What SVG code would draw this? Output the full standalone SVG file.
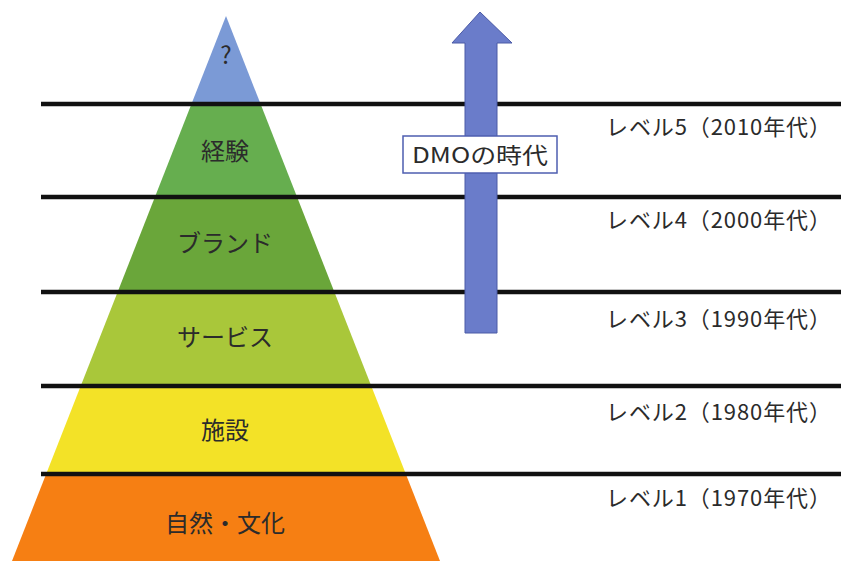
<svg xmlns="http://www.w3.org/2000/svg" width="841" height="561" viewBox="0 0 841 561">
<style>
.lbl{font-family:"Noto Sans CJK JP","Noto Sans",sans-serif;fill:#2b2b2b;text-anchor:middle;font-size:24px}
.lvl{font-family:"Noto Sans CJK JP","Noto Sans",sans-serif;fill:#2b2b2b;font-size:22px}
.sep{stroke:#111;stroke-width:4.5}
</style>
<rect width="841" height="561" fill="#fff"/>
<defs>
<clipPath id="pyr"><polygon points="226,16 12,561 440,561"/></clipPath>
</defs>
<g id="pyramid" clip-path="url(#pyr)">
<rect id="band-top" x="0" y="0" width="460" height="104" fill="#7b9ad6"/>
<rect id="band-keiken" x="0" y="104" width="460" height="93" fill="#66ae4f"/>
<rect id="band-brand" x="0" y="197" width="460" height="95" fill="#6aa63a"/>
<rect id="band-service" x="0" y="292" width="460" height="94" fill="#a9c73a"/>
<rect id="band-shisetsu" x="0" y="386" width="460" height="88" fill="#f3e227"/>
<rect id="band-shizen" x="0" y="474" width="460" height="87" fill="#f67f13"/>
</g>
<g id="pyramid-labels">
<text class="lbl" x="226" y="64" font-size="20">?</text>
<text class="lbl" x="225" y="160">経験</text>
<text class="lbl" x="225" y="252">ブランド</text>
<text class="lbl" x="225" y="346">サービス</text>
<text class="lbl" x="225" y="439">施設</text>
<text class="lbl" x="225" y="532">自然・文化</text>
</g>
<g id="connectors">
<line class="sep" x1="41" y1="104" x2="841" y2="104"/>
<line class="sep" x1="41" y1="197" x2="841" y2="197"/>
<line class="sep" x1="41" y1="292" x2="841" y2="292"/>
<line class="sep" x1="41" y1="386" x2="841" y2="386"/>
<line class="sep" x1="41" y1="474" x2="841" y2="474"/>
</g>
<g id="arrow">
<polygon points="480,12 512,43 497,43 497,333 465,333 465,43 452,43" fill="#6a7cca" stroke="#4b5aa6" stroke-width="1"/>
</g>
<g id="dmo-label">
<rect x="403" y="136" width="154" height="37" fill="#fff" stroke="#4e5eb0" stroke-width="1.5"/>
<text x="412" y="163" textLength="136" lengthAdjust="spacingAndGlyphs" font-family="'Noto Sans CJK JP','Noto Sans',sans-serif" font-size="22" fill="#2b2b2b">DMOの時代</text>
</g>
<g id="levels">
<text class="lvl" x="606" y="135" textLength="225">レベル5（2010年代）</text>
<text class="lvl" x="606" y="228" textLength="225">レベル4（2000年代）</text>
<text class="lvl" x="606" y="327" textLength="225">レベル3（1990年代）</text>
<text class="lvl" x="606" y="420" textLength="225">レベル2（1980年代）</text>
<text class="lvl" x="606" y="506" textLength="225">レベル1（1970年代）</text>
</g>
</svg>
